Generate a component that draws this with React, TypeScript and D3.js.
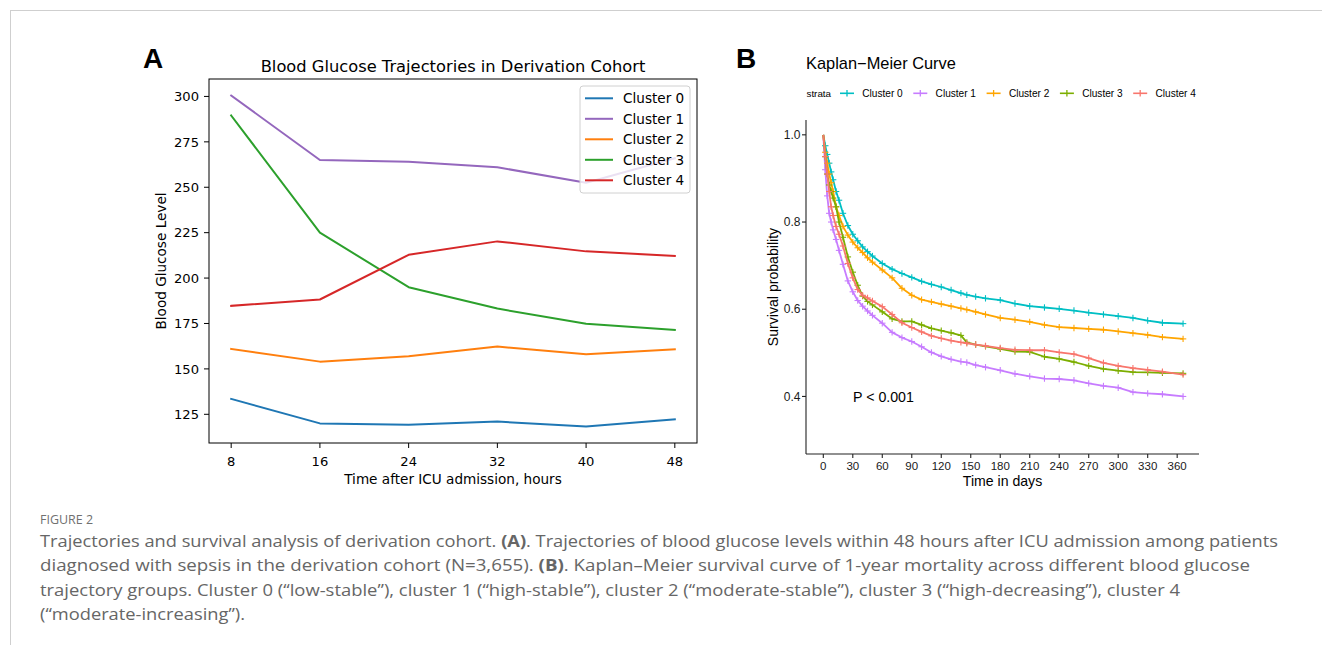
import React from "react";
import * as d3 from "d3";

// ---------- Panel A data ----------
const hours = [8, 16, 24, 32, 40, 48];
const seriesNames = ["Cluster 0", "Cluster 1", "Cluster 2", "Cluster 3", "Cluster 4"];
const glucose0 = [133.5, 120.0, 119.3, 121.0, 118.3, 122.2];
const glucose1 = [300.5, 265.0, 264.0, 261.0, 252.5, 266.0];
const glucose2 = [161.0, 154.0, 157.0, 162.3, 158.0, 160.8];
const glucose3 = [289.5, 225.0, 195.0, 183.2, 174.8, 171.5];
const glucose4 = [184.7, 188.2, 212.8, 220.2, 214.7, 212.2];
const glucoseTicks = [125, 150, 175, 200, 225, 250, 275, 300];
const colorsA = ["#1f77b4", "#9467bd", "#ff7f0e", "#2ca02c", "#d62728"];

// ---------- Panel B data ----------
const kmTimes = [0, 2, 4, 6, 8, 10, 13, 16, 20, 25, 30, 35, 40, 45, 50, 60, 70, 80, 90, 100, 110, 120, 130, 140, 146, 155, 165, 180, 195, 210, 225, 240, 255, 270, 285, 300, 315, 330, 345, 366];
const km0 = [1.0, .975, .955, .935, .915, .897, .87, .85, .82, .792, .772, .757, .743, .732, .722, .705, .692, .682, .673, .664, .657, .651, .644, .637, .633, .629, .625, .621, .613, .607, .604, .601, .597, .592, .588, .584, .580, .574, .569, .567];
const km1 = [1.0, .92, .86, .82, .80, .782, .76, .735, .703, .665, .640, .620, .607, .596, .586, .568, .547, .535, .526, .514, .501, .492, .485, .480, .478, .472, .467, .460, .452, .446, .441, .440, .437, .430, .424, .420, .410, .407, .405, .400];
const km2 = [1.0, .96, .935, .91, .89, .87, .835, .815, .79, .770, .754, .741, .730, .718, .708, .690, .672, .648, .632, .622, .617, .612, .607, .602, .599, .594, .588, .580, .576, .571, .564, .559, .557, .555, .553, .549, .545, .541, .536, .532];
const km3 = [1.0, .95, .91, .885, .87, .855, .835, .80, .765, .72, .685, .655, .630, .618, .610, .594, .578, .572, .572, .564, .556, .551, .546, .540, .524, .519, .515, .509, .503, .502, .491, .486, .479, .470, .463, .459, .456, .455, .454, .453];
const km4 = [1.0, .95, .91, .87, .835, .815, .79, .772, .745, .705, .672, .645, .632, .626, .619, .606, .588, .569, .558, .548, .539, .533, .528, .524, .522, .519, .516, .511, .507, .506, .506, .501, .497, .488, .477, .470, .465, .461, .457, .450];
const dayTicks = [0, 30, 60, 90, 120, 150, 180, 210, 240, 270, 300, 330, 360];
const survTicks = [0.4, 0.6, 0.8, 1.0];
const colorsB = ["#00BFC4", "#C77CFF", "#FFA500", "#7CAE00", "#F8766D"];

// ---------- Caption ----------
const captionLines: { parts: [string, boolean][]; len: number | null }[] = [
  { parts: [["Trajectories and survival analysis of derivation cohort. ", false], ["(A)", true], [". Trajectories of blood glucose levels within 48 hours after ICU admission among patients", false]], len: 1238 },
  { parts: [["diagnosed with sepsis in the derivation cohort (N=3,655). ", false], ["(B)", true], [". Kaplan\u2013Meier survival curve of 1-year mortality across different blood glucose", false]], len: 1210 },
  { parts: [["trajectory groups. Cluster 0 (\u201clow-stable\u201d), cluster 1 (\u201chigh-stable\u201d), cluster 2 (\u201cmoderate-stable\u201d), cluster 3 (\u201chigh-decreasing\u201d), cluster 4", false]], len: 1140 },
  { parts: [["(\u201cmoderate-increasing\u201d).", false]], len: 205 },
];

export default function App() {
  const glucoseSeries = [glucose0, glucose1, glucose2, glucose3, glucose4];
  const kmSeries = [km0, km1, km2, km3, km4];

  // Panel A scales
  const axL = 209, axR = 697, axT = 79, axB = 443;
  const xA = d3.scaleLinear().domain([6, 50]).range([axL, axR]);
  const yA = d3.scaleLinear().domain([109.2, 309.6]).range([axB, axT]);
  const lineA = d3.line<number>().x((_, i) => xA(hours[i])).y((v) => yA(v));

  // Panel B scales
  const bxL = 806, bxR = 1199, byT = 120, byB = 454;
  const xB = d3.scaleLinear().domain([-17.6, 382.2]).range([bxL, bxR]);
  const yB = d3.scaleLinear().domain([0.268, 1.034]).range([byB, byT]);
  const lineB = d3.line<number>().x((_, i) => xB(kmTimes[i])).y((v) => yB(v)).curve(d3.curveLinear);

  const fontA = "'DejaVu Sans', sans-serif";
  const fontB = "'Liberation Sans', Arial, sans-serif";

  return (
    <svg width={1322} height={645} style={{ position: "absolute", left: 0, top: 0, background: "#fff" }}>
      <rect x={0} y={0} width={1322} height={645} fill="#fff" />
      {/* frame */}
      <line x1={10} y1={10.5} x2={1322} y2={10.5} stroke="#cfcfcf" strokeWidth={1} />
      <line x1={10.5} y1={10} x2={10.5} y2={645} stroke="#cfcfcf" strokeWidth={1} />

      {/* ===== Panel A ===== */}
      <text x={143} y={68} fontFamily={fontB} fontWeight="bold" fontSize={28} fill="#000">A</text>
      <text x={(axL + axR) / 2} y={72} textAnchor="middle" fontFamily={fontA} fontSize={16.3} fill="#000">
        Blood Glucose Trajectories in Derivation Cohort
      </text>
      {glucoseSeries.map((s, i) => (
        <path key={i} d={lineA(s) || ""} fill="none" stroke={colorsA[i]} strokeWidth={2} strokeLinejoin="round" strokeLinecap="square" />
      ))}
      <rect x={axL} y={axT} width={axR - axL} height={axB - axT} fill="none" stroke="#000" strokeWidth={1} />
      {hours.map((h) => (
        <g key={h}>
          <line x1={xA(h)} x2={xA(h)} y1={axB} y2={axB + 5} stroke="#000" />
          <text x={xA(h)} y={466} textAnchor="middle" fontFamily={fontA} fontSize={13.1} fill="#000">{h}</text>
        </g>
      ))}
      {glucoseTicks.map((t) => (
        <g key={t}>
          <line x1={axL - 5} x2={axL} y1={yA(t)} y2={yA(t)} stroke="#000" />
          <text x={axL - 10} y={yA(t) + 4.7} textAnchor="end" fontFamily={fontA} fontSize={13.1} fill="#000">{t}</text>
        </g>
      ))}
      <text x={(axL + axR) / 2} y={483.5} textAnchor="middle" fontFamily={fontA} fontSize={13.6} fill="#000">
        Time after ICU admission, hours
      </text>
      <text transform={`translate(165.5, ${(axT + axB) / 2}) rotate(-90)`} textAnchor="middle" fontFamily={fontA} fontSize={13.6} fill="#000">
        Blood Glucose Level
      </text>
      {/* legend A */}
      <rect x={580} y={86} width={110} height={107} rx={3} fill="#fff" fillOpacity={0.8} stroke="#d0d0d0" strokeWidth={1} />
      {seriesNames.map((n, i) => {
        const yy = 98.3 + i * 20.5;
        return (
          <g key={n}>
            <line x1={585} x2={613} y1={yy} y2={yy} stroke={colorsA[i]} strokeWidth={2} />
            <text x={623} y={yy + 4.8} fontFamily={fontA} fontSize={13.6} fill="#000">{n}</text>
          </g>
        );
      })}

      {/* ===== Panel B ===== */}
      <text x={736} y={68} fontFamily={fontB} fontWeight="bold" fontSize={28} fill="#000">B</text>
      <text x={806} y={69} fontFamily={fontB} fontSize={16.4} fill="#000">Kaplan{"\u2212"}Meier Curve</text>
      <text x={806.5} y={96.8} fontFamily={fontB} fontSize={9.8} fill="#000">strata</text>
      {seriesNames.map((n, i) => {
        const x0 = 840 + i * 73.3;
        return (
          <g key={n}>
            <line x1={x0} x2={x0 + 14} y1={93.3} y2={93.3} stroke={colorsB[i]} strokeWidth={1.6} />
            <line x1={x0 + 7} x2={x0 + 7} y1={90} y2={96.6} stroke={colorsB[i]} strokeWidth={1.3} />
            <text x={x0 + 22.3} y={96.9} fontFamily={fontB} fontSize={10.1} fill="#000">{n}</text>
          </g>
        );
      })}
      {kmSeries.map((s, i) => (
        <g key={i}>
          <path d={lineB(s) || ""} fill="none" stroke={colorsB[i]} strokeWidth={1.8} strokeLinejoin="round" />
          {s.map((v, j) =>
            j === 0 ? null : (
              <g key={j} stroke={colorsB[i]} strokeWidth={1.1}>
                <line x1={xB(kmTimes[j]) - 3.2} x2={xB(kmTimes[j]) + 3.2} y1={yB(v)} y2={yB(v)} />
                <line x1={xB(kmTimes[j])} x2={xB(kmTimes[j])} y1={yB(v) - 3.2} y2={yB(v) + 3.2} />
              </g>
            )
          )}
        </g>
      ))}
      <line x1={bxL} x2={bxL} y1={byT} y2={byB} stroke="#222" strokeWidth={1.1} />
      <line x1={bxL} x2={bxR} y1={byB} y2={byB} stroke="#222" strokeWidth={1.1} />
      {survTicks.map((t) => (
        <g key={t}>
          <line x1={bxL - 4} x2={bxL} y1={yB(t)} y2={yB(t)} stroke="#222" strokeWidth={1.1} />
          <text x={bxL - 5.5} y={yB(t) + 4.2} textAnchor="end" fontFamily={fontB} fontSize={12} fill="#1a1a1a">{t.toFixed(1)}</text>
        </g>
      ))}
      {dayTicks.map((t) => (
        <g key={t}>
          <line x1={xB(t)} x2={xB(t)} y1={byB} y2={byB + 4} stroke="#222" strokeWidth={1.1} />
          <text x={xB(t)} y={469.5} textAnchor="middle" fontFamily={fontB} fontSize={11.5} fill="#1a1a1a">{t}</text>
        </g>
      ))}
      <text x={(bxL + bxR) / 2} y={486} textAnchor="middle" fontFamily={fontB} fontSize={14.1} fill="#000">Time in days</text>
      <text transform={`translate(778, ${(byT + byB) / 2}) rotate(-90)`} textAnchor="middle" fontFamily={fontB} fontSize={14.1} fill="#000">
        Survival probability
      </text>
      <text x={853} y={401.8} fontFamily={fontB} fontSize={14.2} fill="#000">P &lt; 0.001</text>

      {/* ===== Caption ===== */}
      <text x={40} y={524} fontFamily="'Open Sans', sans-serif" fontSize={13} fill="#707070" textLength={53} lengthAdjust="spacingAndGlyphs">FIGURE 2</text>
      {captionLines.map((ln, i) => (
        <text
          key={i}
          x={40}
          y={547 + i * 24.3}
          fontFamily="'Open Sans', sans-serif"
          fontSize={16.5}
          fill="#666"
          textLength={ln.len ?? undefined}
          lengthAdjust="spacingAndGlyphs"
        >
          {ln.parts.map(([t, b], k) => (
            <tspan key={k} fontWeight={b ? "bold" : "normal"}>{t}</tspan>
          ))}
        </text>
      ))}
    </svg>
  );
}
